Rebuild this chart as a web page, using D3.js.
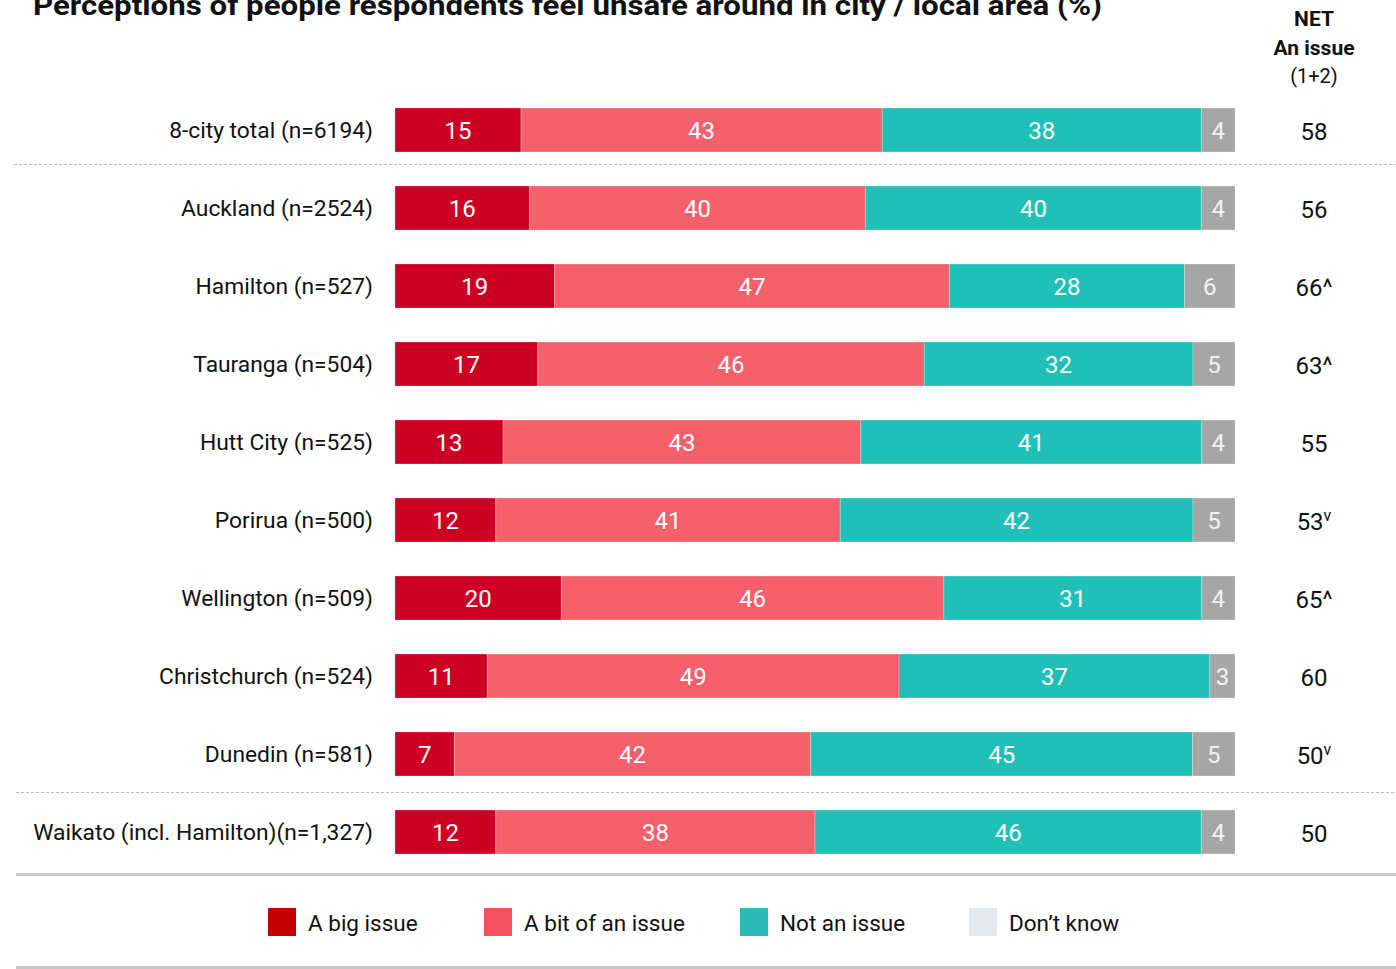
<!DOCTYPE html>
<html>
<head>
<meta charset="utf-8">
<script src="https://cdn.jsdelivr.net/npm/d3@7"></script>
<style>
  html, body { margin: 0; padding: 0; background: #fff; }
  svg { display: block; font-family: Roboto, "Noto Sans", sans-serif; }
</style>
</head>
<body>
<svg id="chart" width="1396" height="969"></svg>
<script>
// ---- Data ----
const categories = [
  "8-city total (n=6194)",
  "Auckland (n=2524)",
  "Hamilton (n=527)",
  "Tauranga (n=504)",
  "Hutt City (n=525)",
  "Porirua (n=500)",
  "Wellington (n=509)",
  "Christchurch (n=524)",
  "Dunedin (n=581)",
  "Waikato (incl. Hamilton)(n=1,327)"
];
const seriesNames = ["A big issue", "A bit of an issue", "Not an issue", "Don\u2019t know"];
const bigIssue   = [15, 16, 19, 17, 13, 12, 20, 11, 7, 12];
const bitOfIssue = [43, 40, 47, 46, 43, 41, 46, 49, 42, 38];
const notIssue   = [38, 40, 28, 32, 41, 42, 31, 37, 45, 46];
const dontKnow   = [4, 4, 6, 5, 4, 5, 4, 3, 5, 4];
const netIssue   = ["58", "56", "66^", "63^", "55", "53\u1D5B", "65^", "60", "50\u1D5B", "50"];

// ---- Styles ----
const barColors    = ["#cc0022", "#f5606c", "#20c0b8", "#a6a6a6"];
const legendColors = ["#c40000", "#f5505f", "#2bbab3", "#e5e8ec"];
const labelColors  = ["#ffffff", "#ffffff", "#ffffff", "#f2f2f2"];

const svg = d3.select("#chart");

const rows = categories.map((c, i) => ({
  cat: c,
  s0: bigIssue[i], s1: bitOfIssue[i], s2: notIssue[i], s3: dontKnow[i]
}));
const keys = ["s0", "s1", "s2", "s3"];
const stack = d3.stack().keys(keys).offset(d3.stackOffsetExpand);
const stacked = stack(rows);

const x = d3.scaleLinear().domain([0, 1]).range([395, 1235]);
const y = d3.scaleBand().domain(categories).range([91, 871]).paddingInner(0.436).paddingOuter(0.218);

// Title
svg.append("text")
  .attr("x", 33).attr("y", 15)
  .attr("font-size", 28).attr("font-weight", 700).attr("fill", "#111")
  .attr("textLength", 1069).attr("lengthAdjust", "spacingAndGlyphs")
  .text("Perceptions of people respondents feel unsafe around in city / local area (%)");

// NET header
const hdr = svg.append("g").attr("text-anchor", "middle").attr("fill", "#111");
hdr.append("text").attr("x", 1314).attr("y", 26).attr("font-size", 21).attr("font-weight", 700).text("NET");
hdr.append("text").attr("x", 1314).attr("y", 55).attr("font-size", 21).attr("font-weight", 700).text("An issue");
hdr.append("text").attr("x", 1314).attr("y", 83).attr("font-size", 20).text("(1+2)");

// Separators
svg.append("line").attr("x1", 14).attr("x2", 1396).attr("y1", 164.5).attr("y2", 164.5)
  .attr("stroke", "#bbb").attr("stroke-width", 1).attr("stroke-dasharray", "3,2");
svg.append("line").attr("x1", 16).attr("x2", 1396).attr("y1", 792.5).attr("y2", 792.5)
  .attr("stroke", "#bbb").attr("stroke-width", 1).attr("stroke-dasharray", "3,2");
svg.append("line").attr("x1", 16).attr("x2", 1396).attr("y1", 874.5).attr("y2", 874.5)
  .attr("stroke", "#c8c8c8").attr("stroke-width", 3);
svg.append("line").attr("x1", 16).attr("x2", 1396).attr("y1", 967.5).attr("y2", 967.5)
  .attr("stroke", "#c8c8c8").attr("stroke-width", 3);

// Category labels
svg.append("g").selectAll("text").data(categories).join("text")
  .attr("x", 373).attr("y", d => y(d) + y.bandwidth() / 2 + 8)
  .attr("text-anchor", "end").attr("font-size", 22.8).attr("fill", "#111")
  .text(d => d);

// Bars
const layer = svg.append("g").selectAll("g").data(stacked).join("g")
  .attr("fill", (d, i) => barColors[i]);
layer.selectAll("rect").data(d => d).join("rect")
  .attr("x", d => x(d[0]))
  .attr("y", d => y(d.data.cat))
  .attr("width", d => x(d[1]) - x(d[0]))
  .attr("height", y.bandwidth())
  .attr("stroke", "rgba(255,255,255,0.25)").attr("stroke-width", 1);

// Segment labels
stacked.forEach((ser, si) => {
  svg.append("g").selectAll("text").data(ser).join("text")
    .attr("x", d => (x(d[0]) + x(d[1])) / 2)
    .attr("y", d => y(d.data.cat) + y.bandwidth() / 2 + 9)
    .attr("text-anchor", "middle").attr("font-size", 24).attr("fill", labelColors[si])
    .text(d => d.data[ser.key]);
});

// NET values
svg.append("g").selectAll("text").data(categories).join("text")
  .attr("x", 1314).attr("y", (d) => y(d) + y.bandwidth() / 2 + 10)
  .attr("text-anchor", "middle").attr("font-size", 24).attr("fill", "#111")
  .each(function(d, i) {
    const v = netIssue[i];
    const t = d3.select(this);
    const base = v.replace(/[\^\u1D5B]/g, "");
    const suf = v.slice(base.length);
    if (suf === "\u1D5B") {
      t.append("tspan").text(base);
      t.append("tspan").attr("font-size", 16).attr("dy", -9).text("v");
    } else {
      t.text(v);
    }
  });

// Legend
const legX = [268, 484, 740, 969];
const leg = svg.append("g").selectAll("g").data(seriesNames).join("g")
  .attr("transform", (d, i) => `translate(${legX[i]},908)`);
leg.append("rect").attr("width", 28).attr("height", 28).attr("fill", (d, i) => legendColors[i]);
leg.append("text").attr("x", 40).attr("y", 23).attr("font-size", 22.5).attr("fill", "#111").text(d => d);
</script>
</body>
</html>
